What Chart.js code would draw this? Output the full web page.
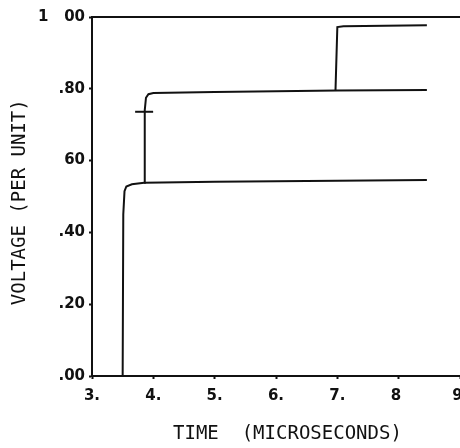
<!DOCTYPE html>
<html>
<head>
<meta charset="utf-8">
<script src="https://cdn.jsdelivr.net/npm/chart.js@4"></script>
<style>
  html, body { margin: 0; padding: 0; background: #fff; overflow: hidden; }
  #wrap { width: 460px; height: 448px; }
</style>
</head>
<body>
<div id="wrap"><canvas id="grafica"></canvas></div>
<script>
// valores (tiempo en microsegundos, voltaje por unidad)
const timeA = [3.5, 3.51, 3.53, 3.56, 3.65, 3.85, 5.0, 7.0, 8.46];
const voltA = [0.0, 0.45, 0.515, 0.528, 0.534, 0.538, 0.541, 0.544, 0.546];

const timeB = [3.85, 3.86, 3.88, 3.92, 4.0, 5.0, 7.0, 8.46];
const voltB = [0.538, 0.74, 0.775, 0.785, 0.788, 0.791, 0.795, 0.797];

const timeC = [6.97, 7.0, 7.1, 8.46];
const voltC = [0.795, 0.972, 0.974, 0.977];

const markTime = [3.85];
const markVolt = [0.736];

const xTicks = [3, 4, 5, 6, 7, 8, 9];
const xTickLabels = ['3.', '4.', '5.', '6.', '7.', '8 ', '9 '];
const yTicks = [0, 0.2, 0.4, 0.6, 0.8, 1.0];
const yTickLabels = ['.00', '.20', '.40', '60', '.80', '1   00'];

const toPoints = (xs, ys) => xs.map((x, i) => ({ x: x, y: ys[i] }));

const titleFont = 'DejaVu Sans Mono';
const tickFont = 'DejaVu Sans';
const ink = '#111';

const lineSet = (xs, ys) => ({
    data: toPoints(xs, ys),
    showLine: true,
    borderColor: ink,
    borderWidth: 2,
    pointRadius: 0,
    tension: 0
});

// marco superior
const topLine = {
    id: 'topLine',
    afterDraw(chart) {
        const { ctx, chartArea } = chart;
        ctx.save();
        ctx.strokeStyle = ink;
        ctx.lineWidth = 2;
        ctx.beginPath();
        ctx.moveTo(chartArea.left, chartArea.top);
        ctx.lineTo(chart.width, chartArea.top);
        ctx.stroke();
        ctx.restore();
    }
};

const graph = document.querySelector('#grafica');

new Chart(graph, {
    type: 'scatter',
    data: {
        datasets: [
            lineSet(timeA, voltA),
            lineSet(timeB, voltB),
            lineSet(timeC, voltC),
            {
                data: toPoints(markTime, markVolt),
                showLine: false,
                pointStyle: 'line',
                pointRadius: 9,
                borderColor: ink,
                backgroundColor: ink,
                borderWidth: 2
            }
        ]
    },
    options: {
        responsive: true,
        maintainAspectRatio: false,
        animation: false,
        layout: { autoPadding: false, padding: { top: 17, right: 0, left: 0, bottom: 0 } },
        plugins: { legend: { display: false }, tooltip: { enabled: false } },
        scales: {
            x: {
                type: 'linear',
                min: 3,
                max: 9,
                afterBuildTicks: s => { s.ticks = xTicks.map(v => ({ value: v })); },
                afterFit: s => { s.height = 72; s.paddingRight = 0; s.paddingLeft = 0; },
                border: { color: ink, width: 2 },
                grid: { drawOnChartArea: false, tickLength: 3, tickWidth: 2, tickColor: ink },
                ticks: {
                    color: ink,
                    padding: 8,
                    maxRotation: 0,
                    font: { family: tickFont, size: 15, weight: 'bold' },
                    callback: (v) => xTickLabels[xTicks.indexOf(v)]
                },
                title: {
                    display: true,
                    text: '  TIME  (MICROSECONDS)',
                    color: ink,
                    padding: { top: 0, bottom: 3 },
                    font: { family: titleFont, size: 19 }
                }
            },
            y: {
                min: 0,
                max: 1,
                afterBuildTicks: s => { s.ticks = yTicks.map(v => ({ value: v })); },
                afterFit: s => { s.width = 92; },
                border: { color: ink, width: 2 },
                grid: { drawOnChartArea: false, tickLength: 3, tickWidth: 2, tickColor: ink },
                ticks: {
                    color: ink,
                    padding: 4,
                    font: { family: tickFont, size: 15, weight: 'bold' },
                    callback: (v) => yTickLabels[Math.round(v * 5)]
                },
                title: {
                    display: true,
                    text: 'VOLTAGE (PER UNIT) ',
                    color: ink,
                    padding: { top: 9, bottom: 0 },
                    font: { family: titleFont, size: 19 }
                }
            }
        }
    },
    plugins: [topLine]
});
</script>
</body>
</html>
